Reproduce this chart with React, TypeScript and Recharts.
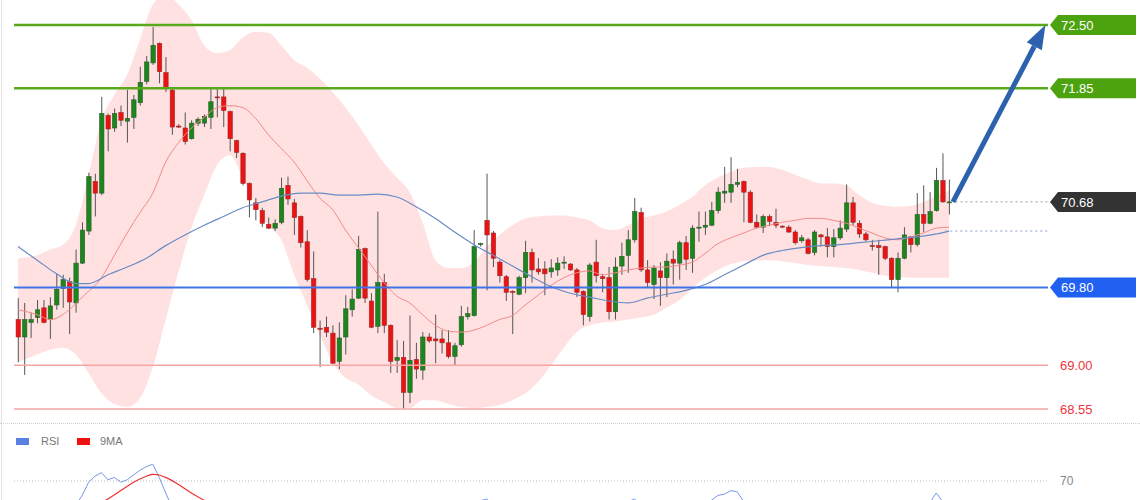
import React from 'react'
import { Area, Bar, ComposedChart, Line, ReferenceLine, XAxis, YAxis } from 'recharts'

// candles (one per bar, left to right)
const candleOpen = [
  69.47, 69.29, 69.44, 69.49, 69.59, 69.47, 69.62, 69.79, 69.86, 69.64,
  70.05, 70.38, 70.89, 70.77, 71.57, 71.44, 71.6, 71.51, 71.55, 71.7,
  71.92, 72.11, 72.31, 72.01, 71.83, 71.46, 71.44, 71.33, 71.49, 71.49,
  71.55, 71.76, 71.76, 71.61, 71.31, 71.18, 70.87, 70.67, 70.59, 70.45,
  70.41, 70.47, 70.85, 70.67, 70.53, 70.27, 69.89, 69.38, 69.39, 69.33,
  69.04, 69.29, 69.57, 69.69, 70.2, 69.66, 69.4, 69.85, 69.41, 69.05,
  69.08, 68.72, 69.06, 68.95, 69.29, 69.27, 69.27, 69.23, 69.09, 69.21,
  69.5, 69.51, 70.24, 70.49, 70.36, 70.06, 69.91, 69.76, 69.73, 69.9,
  70.16, 69.99, 69.99, 69.96, 69.98, 70.05, 70.04, 69.98, 69.76, 69.5,
  70.06, 69.91, 69.9, 69.55, 70.02, 70.13, 70.29, 70.57, 69.98, 69.83,
  69.97, 69.9, 70.09, 70.05, 70.26, 70.1, 70.41, 70.42, 70.44, 70.59,
  70.77, 70.78, 70.86, 70.89, 70.78, 70.47, 70.42, 70.53, 70.47, 70.43,
  70.42, 70.37, 70.28, 70.29, 70.16, 70.34, 70.32, 70.22, 70.31, 70.4,
  70.67, 70.46, 70.35, 70.23, 70.23, 70.22, 70.1, 69.88, 70.1, 70.32,
  70.24, 70.55, 70.46, 70.59, 70.9, 70.68,
]
const candleHigh = [
  69.69, 69.64, 69.54, 69.67, 69.67, 69.7, 69.94, 69.93, 69.9, 70.19,
  70.47, 70.98, 70.97, 71.76, 71.59, 71.64, 71.67, 71.83, 71.78, 72.07,
  72.18, 72.48, 72.32, 72.17, 71.85, 71.48, 71.6, 71.52, 71.55, 71.58,
  71.85, 71.85, 71.85, 71.62, 71.32, 71.19, 70.88, 70.72, 70.62, 70.52,
  70.5, 70.93, 70.94, 70.71, 70.54, 70.39, 70.17, 69.46, 69.5, 69.41,
  69.44, 69.72, 69.78, 70.33, 70.21, 69.74, 70.58, 69.94, 69.42, 69.26,
  69.25, 69.51, 69.23, 69.34, 69.33, 69.52, 69.36, 69.36, 69.23, 69.61,
  69.6, 70.39, 70.26, 70.97, 70.38, 70.08, 69.93, 69.77, 69.92, 70.28,
  70.2, 70.1, 70.07, 70.09, 70.11, 70.12, 70.05, 70.0, 69.77, 70.05,
  70.29, 69.94, 70.01, 70.11, 70.26, 70.39, 70.72, 70.62, 70.08, 70.03,
  70.06, 70.15, 70.18, 70.28, 70.33, 70.44, 70.58, 70.58, 70.68, 70.83,
  71.04, 71.14, 71.02, 70.9, 70.8, 70.55, 70.55, 70.55, 70.61, 70.44,
  70.44, 70.39, 70.34, 70.31, 70.39, 70.35, 70.41, 70.4, 70.49, 70.86,
  70.73, 70.49, 70.37, 70.29, 70.29, 70.23, 70.11, 70.16, 70.42, 70.33,
  70.77, 70.85, 70.78, 71.03, 71.18, 70.91,
]
const candleLow = [
  69.03, 68.9, 69.28, 69.43, 69.43, 69.27, 69.57, 69.59, 69.32, 69.54,
  70.04, 70.34, 70.53, 70.75, 71.2, 71.4, 71.46, 71.29, 71.43, 71.67,
  71.89, 72.09, 71.9, 71.81, 71.37, 71.44, 71.27, 71.32, 71.46, 71.45,
  71.43, 71.55, 71.45, 71.2, 71.13, 70.85, 70.52, 70.49, 70.42, 70.4,
  70.38, 70.45, 70.65, 70.34, 70.21, 69.86, 69.33, 68.98, 69.29, 69.01,
  68.96, 69.11, 69.5, 69.68, 69.64, 69.38, 69.33, 69.33, 68.92, 68.92,
  68.55, 68.61, 68.86, 68.85, 69.23, 69.02, 69.12, 69.07, 69.0, 69.19,
  69.47, 69.5, 70.22, 69.77, 70.01, 69.85, 69.66, 69.32, 69.72, 69.74,
  69.85, 69.93, 69.72, 69.9, 69.92, 69.99, 69.97, 69.7, 69.41, 69.45,
  69.85, 69.75, 69.47, 69.47, 69.93, 69.95, 70.26, 69.96, 69.8, 69.68,
  69.61, 69.7, 69.83, 69.88, 69.98, 69.95, 70.27, 70.34, 70.43, 70.56,
  70.67, 70.67, 70.83, 70.47, 70.46, 70.41, 70.36, 70.43, 70.41, 70.41,
  70.36, 70.24, 70.26, 70.14, 70.13, 70.22, 70.11, 70.11, 70.29, 70.37,
  70.44, 70.31, 70.27, 70.18, 69.93, 70.08, 69.8, 69.75, 70.09, 70.16,
  70.22, 70.37, 70.45, 70.58, 70.67, 70.55,
]
const candleClose = [
  69.29, 69.47, 69.47, 69.57, 69.44, 69.61, 69.78, 69.88, 69.65, 70.05,
  70.39, 70.94, 70.77, 71.59, 71.43, 71.59, 71.52, 71.54, 71.73, 71.91,
  72.12, 72.29, 72.02, 71.85, 71.45, 71.45, 71.3, 71.49, 71.53, 71.56,
  71.71, 71.75, 71.62, 71.33, 71.19, 70.87, 70.7, 70.6, 70.46, 70.41,
  70.46, 70.82, 70.71, 70.52, 70.26, 69.88, 69.39, 69.37, 69.34, 69.02,
  69.28, 69.58, 69.68, 70.19, 69.69, 69.39, 69.85, 69.41, 69.04, 69.08,
  68.72, 69.05, 68.96, 69.29, 69.25, 69.25, 69.23, 69.09, 69.2, 69.5,
  69.53, 70.22, 70.25, 70.34, 70.1, 69.92, 69.75, 69.75, 69.9, 70.16,
  69.98, 69.96, 69.94, 70.0, 70.05, 70.06, 69.98, 69.75, 69.52, 70.03,
  69.92, 69.89, 69.55, 70.01, 70.12, 70.29, 70.58, 69.98, 69.85, 70.0,
  69.9, 70.07, 70.05, 70.26, 70.09, 70.41, 70.42, 70.44, 70.59, 70.78,
  70.79, 70.86, 70.88, 70.78, 70.47, 70.42, 70.53, 70.48, 70.44, 70.42,
  70.37, 70.26, 70.31, 70.15, 70.37, 70.32, 70.22, 70.31, 70.41, 70.67,
  70.47, 70.35, 70.29, 70.22, 70.21, 70.1, 69.88, 70.1, 70.34, 70.24,
  70.55, 70.46, 70.58, 70.9, 70.68, 70.68,
]

// bollinger band, sampled at these candle positions
const bandIndex = [
  0, 3, 5, 7, 9, 11, 13, 15, 17, 19, 21, 23, 25, 27, 29, 31, 33, 35, 37, 39,
  41, 43, 45, 47, 49, 51, 53, 55, 57, 59, 61, 63, 65, 67, 69, 71, 73, 75, 77, 79,
  81, 83, 85, 87, 89, 91, 93, 95, 97, 99, 101, 103, 105, 107, 109, 111, 113, 115, 117, 119,
  121, 123, 125, 127, 129, 131, 133, 135, 137, 139, 141, 143, 145,
]
const bandUpper = [
  70.1, 70.13, 70.19, 70.24, 70.44, 70.96, 71.52, 71.78, 71.99, 72.35, 72.71, 72.81, 72.71, 72.55, 72.29, 72.21, 72.24, 72.37, 72.43, 72.42,
  72.29, 72.14, 72.06, 71.95, 71.81, 71.65, 71.47, 71.27, 71.08, 70.93, 70.78, 70.47, 70.08, 70.0, 70.0, 70.06, 70.22, 70.34, 70.44, 70.51,
  70.53, 70.54, 70.54, 70.52, 70.49, 70.41, 70.39, 70.44, 70.51, 70.54, 70.58, 70.65, 70.73, 70.85, 70.93, 70.99, 71.03, 71.04, 71.04, 71.01,
  70.96, 70.91, 70.87, 70.87, 70.85, 70.75, 70.67, 70.64, 70.63, 70.64, 70.68, 70.74, 70.8,
]
const bandLower = [
  69.03, 69.11, 69.16, 69.18, 69.11, 68.92, 68.71, 68.6, 68.57, 68.66, 68.98, 69.47, 69.96, 70.41, 70.75, 71.06, 71.16, 70.93, 70.65, 70.44,
  70.29, 69.93, 69.62, 69.31, 69.03, 68.87, 68.8, 68.69, 68.62, 68.56, 68.56, 68.64, 68.64, 68.6, 68.57, 68.56, 68.57, 68.59, 68.64, 68.71,
  68.83, 69.0, 69.18, 69.34, 69.41, 69.44, 69.45, 69.47, 69.49, 69.52, 69.59, 69.67, 69.79, 69.9, 69.98, 70.04, 70.07, 70.08, 70.08, 70.07,
  70.05, 70.03, 70.02, 70.01, 70.0, 69.98, 69.95, 69.92, 69.91, 69.9, 69.9, 69.9, 69.9,
]

// red moving average (band middle)
const ma20Index = [
  0, 3, 5, 8, 10, 13, 15, 17, 19, 21, 23, 25, 27, 29, 31, 33, 35, 37, 39, 41,
  43, 45, 47, 49, 51, 53, 55, 57, 59, 61, 63, 65, 67, 69, 71, 73, 75, 77, 79, 81,
  83, 85, 87, 89, 91, 93, 95, 97, 99, 101, 103, 105, 107, 109, 111, 113, 115, 117, 119, 121,
  123, 125, 127, 129, 131, 133, 135, 137, 139, 141, 143, 145,
]
const ma20Values = [
  69.57, 69.52, 69.47, 69.57, 69.7, 69.9, 70.13, 70.36, 70.57, 70.77, 71.09, 71.29, 71.44, 71.55, 71.65, 71.67, 71.65, 71.54, 71.37, 71.23,
  71.09, 70.9, 70.72, 70.6, 70.39, 70.21, 70.03, 69.85, 69.71, 69.64, 69.52, 69.41, 69.35, 69.34, 69.36, 69.41, 69.47, 69.51, 69.62, 69.72,
  69.82, 69.9, 69.95, 69.97, 69.93, 69.95, 69.98, 70.0, 70.01, 70.01, 70.03, 70.06, 70.15, 70.25, 70.31, 70.36, 70.41, 70.44, 70.47, 70.49,
  70.51, 70.51, 70.49, 70.46, 70.41, 70.36, 70.31, 70.29, 70.32, 70.36, 70.41, 70.42,
]

// blue moving average (slow)
const ma50Index = [
  0, 3, 6, 9, 11, 14, 17, 20, 23, 26, 29, 32, 35, 38, 41, 44, 47, 50, 53, 56,
  59, 62, 65, 68, 71, 74, 77, 80, 83, 86, 89, 92, 95, 98, 101, 104, 107, 110, 113, 116,
  119, 122, 125, 128, 131, 134, 137, 140, 143, 145,
]
const ma50Values = [
  70.22, 70.08, 69.94, 69.84, 69.84, 69.93, 70.01, 70.1, 70.23, 70.34, 70.44, 70.53, 70.62, 70.68, 70.74, 70.77, 70.77, 70.75, 70.75, 70.76,
  70.73, 70.63, 70.51, 70.37, 70.24, 70.13, 70.02, 69.91, 69.81, 69.74, 69.7, 69.66, 69.64, 69.69, 69.73, 69.77, 69.83, 69.93, 70.03, 70.13,
  70.18, 70.21, 70.23, 70.24, 70.26, 70.28, 70.3, 70.32, 70.35, 70.38,
]

// RSI panel
const rsiIndex = [
  0, 3, 6, 9, 10, 11, 12, 13, 14, 15, 16, 17, 18, 19, 20, 21, 22, 23, 24, 26,
  28, 31, 34, 37, 40, 43, 46, 49, 52, 55, 58, 61, 64, 67, 70, 71, 73, 75, 78, 81,
  84, 87, 90, 93, 96, 98, 101, 104, 107, 108, 109, 110, 111, 112, 113, 115, 118, 121, 124, 127,
  130, 133, 136, 139, 142, 143, 144, 145,
]
const rsiValues = [
  40, 45, 48, 50, 58, 69, 74, 77, 71, 73, 69, 71, 75, 79, 82, 84, 73, 60, 48, 45,
  50, 52, 38, 32, 30, 35, 25, 22, 35, 30, 28, 33, 35, 32, 40, 52, 55, 45, 42, 44,
  46, 40, 45, 48, 55, 46, 48, 50, 52, 54, 58, 59, 62, 61, 53, 50, 50, 44, 46, 45,
  50, 44, 38, 45, 52, 60, 53, 52,
]
const rsiMaIndex = [
  0, 3, 6, 9, 10, 12, 14, 16, 18, 20, 21, 22, 23, 25, 27, 29, 31, 34, 37, 40,
  43, 46, 49, 52, 55, 58, 61, 64, 67, 70, 73, 76, 79, 82, 85, 88, 91, 94, 97, 100,
  103, 106, 109, 112, 115, 118, 121, 124, 127, 130, 133, 136, 139, 142, 145,
]
const rsiMaValues = [
  45, 44, 45, 46, 47, 50, 55, 62, 69, 74, 75.5, 75, 73, 67, 60, 54, 50, 46, 42, 37,
  34, 31, 28, 28, 30, 31, 30, 32, 33, 35, 42, 45, 44, 43, 44, 43, 44, 46, 48, 49,
  48, 50, 52, 53, 52, 50, 48, 46, 46, 46, 45, 43, 44, 47, 50,
]

// price levels on the right
const targetLevels = [72.5, 71.85]
const targetLabels = ['72.50', '71.85']
const supportLevel = 69.8
const supportLabel = '69.80'
const lowerLevels = [69.0, 68.55]
const lowerLabels = ['69.00', '68.55']
const lastPrice = 70.68
const lastPriceLabel = '70.68'
const slowMaLast = 70.38
const arrowFrom = { x: 145.6, y: 70.68 }
const arrowTo = { x: 160, y: 72.5 }

const X_DOMAIN: [number, number] = [-0.62, 160.4]
const PRICE_DOMAIN: [number, number] = [68.436, 72.757]
const MARGIN = { top: 0, right: 92, bottom: 0, left: 14 }
const FONT = '"Liberation Sans", Arial, sans-serif'

const candles: any[] = candleOpen.map((open, i) => ({
  i,
  open,
  high: candleHigh[i],
  low: candleLow[i],
  close: candleClose[i],
}))
ma20Index.forEach((idx, k) => { candles[idx].ma20 = ma20Values[k] })
ma50Index.forEach((idx, k) => { candles[idx].ma50 = ma50Values[k] })

const bandRows = bandIndex.map((i, k) => ({ i, band: [bandLower[k], bandUpper[k]] }))

const rsiRows: any[] = candleOpen.map((_, i) => ({ i }))
rsiIndex.forEach((idx, k) => { rsiRows[idx].rsi = rsiValues[k] })
rsiMaIndex.forEach((idx, k) => { rsiRows[idx].rsiMa = rsiMaValues[k] })

function Candle(props: any) {
  const { x, y, width, height, payload } = props
  if (!payload || height == null) return null
  const { open, close, high, low } = payload
  const top = Math.min(y, y + height)
  const h = Math.abs(height)
  const k = h / (high - low)
  const cx = x + width / 2
  const yo = top + (high - open) * k
  const yc = top + (high - close) * k
  const up = close >= open
  const bTop = Math.min(yo, yc)
  const bH = Math.max(Math.abs(yo - yc), 1)
  return (
    <g>
      <line x1={cx} x2={cx} y1={top} y2={top + h} stroke="#555" strokeWidth={1} />
      <rect
        x={cx - 2.2}
        y={bTop}
        width={4.4}
        height={bH}
        fill={up ? '#1b861b' : '#ec1212'}
        stroke={up ? '#2d5a2d' : '#9a2b2b'}
        strokeWidth={0.6}
      />
    </g>
  )
}

function Tag(props: any) {
  const vb = props.viewBox || {}
  const x = vb.x + vb.width + 2
  const y = vb.y
  return (
    <g>
      <polygon
        points={`${x},${y} ${x + 8},${y - 10} ${x + 86},${y - 10} ${x + 86},${y + 10} ${x + 8},${y + 10}`}
        fill={props.fill}
      />
      <text x={x + 11} y={y} dy="0.36em" fill="#fff" fontSize={13} fontFamily={FONT}>
        {props.text}
      </text>
    </g>
  )
}

function PlainLabel(props: any) {
  const vb = props.viewBox || {}
  return (
    <text x={vb.x + vb.width + 12} y={vb.y} dy="0.36em" fill={props.color} fontSize={props.size || 13} fontFamily={FONT}>
      {props.text}
    </text>
  )
}

function Arrow(props: any) {
  const { x1, y1, x2, y2 } = props
  const ang = Math.atan2(y2 - y1, x2 - x1)
  const len = 24
  const half = 8.5
  const bx = x2 - len * Math.cos(ang)
  const by = y2 - len * Math.sin(ang)
  const px = -Math.sin(ang) * half
  const py = Math.cos(ang) * half
  return (
    <g>
      <line x1={x1} y1={y1} x2={bx} y2={by} stroke="#2c62ad" strokeWidth={5} />
      <polygon points={`${x2},${y2} ${bx + px},${by + py} ${bx - px},${by - py}`} fill="#2c62ad" />
    </g>
  )
}

export default function App() {
  return (
    <div style={{ position: 'absolute', left: 0, top: 0, width: 1140, height: 500, overflow: 'hidden', background: '#fff' }}>
      <div style={{ position: 'absolute', left: 1, top: 0, width: 0, height: 500, borderLeft: '1px solid #e2e2e2' }} />
      <div style={{ position: 'absolute', left: 0, top: 0 }}>
        <ComposedChart width={1140} height={420} data={bandRows} margin={MARGIN}>
          <XAxis type="number" dataKey="i" domain={X_DOMAIN} hide allowDataOverflow />
          <YAxis type="number" domain={PRICE_DOMAIN} hide allowDataOverflow />
          <Area
            type="monotone"
            dataKey="band"
            stroke="none"
            fill="#ffb0b0"
            fillOpacity={0.38}
            isAnimationActive={false}
          />
        </ComposedChart>
      </div>
      <div style={{ position: 'absolute', left: 0, top: 0 }}>
        <ComposedChart width={1140} height={420} data={candles} margin={MARGIN}>
          <XAxis type="number" dataKey="i" domain={X_DOMAIN} hide allowDataOverflow />
          <YAxis type="number" domain={PRICE_DOMAIN} hide allowDataOverflow />
          <Line type="monotone" dataKey="ma20" stroke="#f28a8a" strokeWidth={1} dot={false} connectNulls isAnimationActive={false} />
          <Line type="monotone" dataKey="ma50" stroke="#6a8cc4" strokeWidth={1.2} dot={false} connectNulls isAnimationActive={false} />
          <Bar dataKey={(d: any) => [d.low, d.high]} barSize={5} shape={Candle} isAnimationActive={false} />
          {lowerLevels.map((v, k) => (
            <ReferenceLine
              key={`low-${k}`}
              y={v}
              stroke="#f6a4a4"
              strokeWidth={1.5}
              label={<PlainLabel text={lowerLabels[k]} color="#f0353a" />}
            />
          ))}
          <ReferenceLine
            y={supportLevel}
            stroke="#3f74e6"
            strokeWidth={2}
            label={<Tag text={supportLabel} fill="#2161f2" />}
          />
          {targetLevels.map((v, k) => (
            <ReferenceLine
              key={`tgt-${k}`}
              y={v}
              stroke="#5aa91c"
              strokeWidth={2.5}
              label={<Tag text={targetLabels[k]} fill="#4ca30e" />}
            />
          ))}
          <ReferenceLine
            segment={[{ x: 144.4, y: slowMaLast }, { x: X_DOMAIN[1], y: slowMaLast }]}
            stroke="#8c9ecb"
            strokeDasharray="2 3"
          />
          <ReferenceLine
            segment={[{ x: 146, y: lastPrice }, { x: X_DOMAIN[1], y: lastPrice }]}
            stroke="#9a9a9a"
            strokeDasharray="2 3"
            label={<Tag text={lastPriceLabel} fill="#333333" />}
          />
          <ReferenceLine
            segment={[arrowFrom, arrowTo]}
            shape={(p: any) => <Arrow {...p} />}
          />
        </ComposedChart>
      </div>
      <div style={{ position: 'absolute', left: 0, top: 423, width: 1140, height: 0, borderTop: '1px dotted #d0d0d0' }} />
      <div style={{ position: 'absolute', left: 16, top: 438, width: 13, height: 7, background: '#5b80e2' }} />
      <div style={{ position: 'absolute', left: 41, top: 435, fontFamily: FONT, fontSize: 11, color: '#777' }}>RSI</div>
      <div style={{ position: 'absolute', left: 77, top: 438, width: 13, height: 7, background: '#ee1111' }} />
      <div style={{ position: 'absolute', left: 100, top: 435, fontFamily: FONT, fontSize: 11, color: '#777' }}>9MA</div>
      <div style={{ position: 'absolute', left: 0, top: 425 }}>
        <ComposedChart width={1140} height={200} data={rsiRows} margin={{ top: 20, right: 92, bottom: 60, left: 14 }}>
          <XAxis type="number" dataKey="i" domain={X_DOMAIN} hide allowDataOverflow />
          <YAxis type="number" domain={[0, 100]} hide allowDataOverflow />
          <ReferenceLine
            y={70}
            stroke="#bdbdbd"
            strokeDasharray="1 2"
            label={<PlainLabel text="70" color="#888" size={12} />}
          />
          <Line type="linear" dataKey="rsi" stroke="#7896e6" strokeWidth={1} dot={false} connectNulls isAnimationActive={false} />
          <Line type="monotone" dataKey="rsiMa" stroke="#f03030" strokeWidth={1.2} dot={false} connectNulls isAnimationActive={false} />
        </ComposedChart>
      </div>
    </div>
  )
}
